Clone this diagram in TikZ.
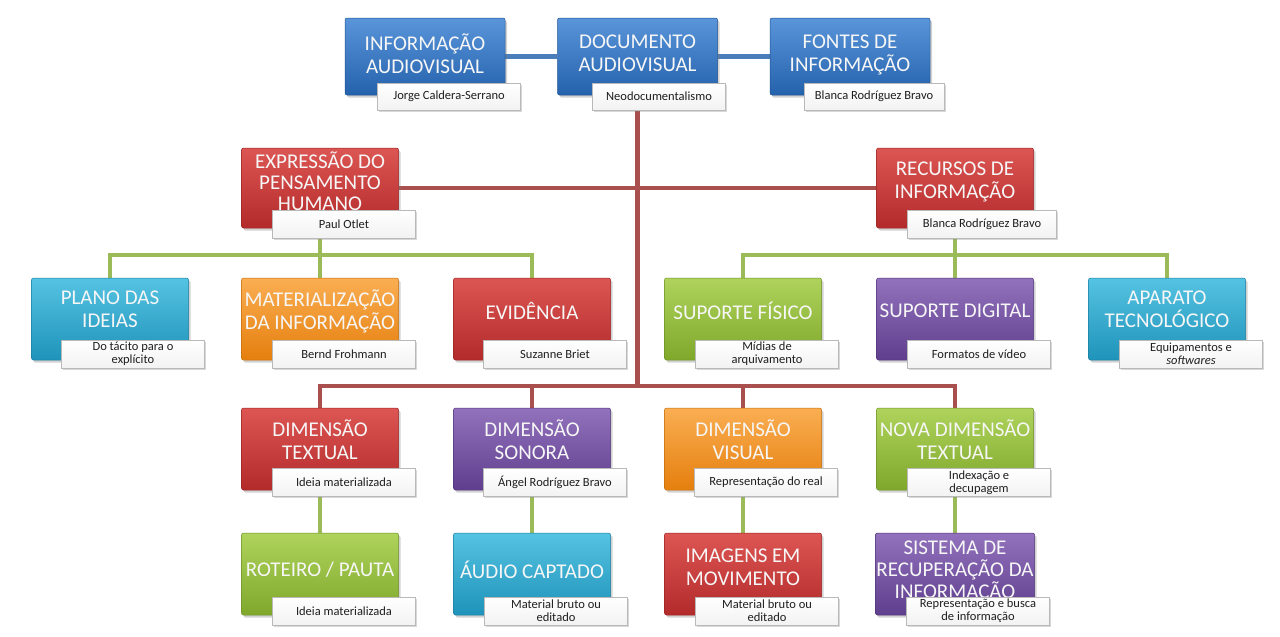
\documentclass[tikz,border=0pt]{standalone}
\usepackage{fontspec}
\setmainfont{Carlito}
\usetikzlibrary{shadows,calc}
\pgfdeclarelayer{bg}
\pgfsetlayers{bg,main}
\definecolor{bluetop}{HTML}{5A95DA}
\definecolor{bluebot}{HTML}{2462AC}
\definecolor{redtop}{HTML}{DC5653}
\definecolor{redbot}{HTML}{B32A2A}
\definecolor{cyantop}{HTML}{55C3E2}
\definecolor{cyanbot}{HTML}{1F93BA}
\definecolor{orangetop}{HTML}{FAAE52}
\definecolor{orangebot}{HTML}{E57F0E}
\definecolor{greentop}{HTML}{AFD35C}
\definecolor{greenbot}{HTML}{7FA82B}
\definecolor{purptop}{HTML}{9272BC}
\definecolor{purpbot}{HTML}{5F3E8E}
\definecolor{connblue}{HTML}{4A7EBB}
\definecolor{connred}{HTML}{A94F4E}
\definecolor{conngreen}{HTML}{9BBB59}
\definecolor{boxtext}{HTML}{F6F6F6}
% invisible strut that lifts a box's text by about half its extra depth
\newcommand{\liftby}[1]{\rule[-#1]{0pt}{1pt}}
\tikzset{
  x=1pt, y=1pt,
  box/.style={rounded corners=2pt, minimum width=157pt, minimum height=82pt,
    align=center, text=boxtext, font=\fontsize{21}{23}\selectfont, inner sep=1pt,
    line width=0.5pt,
    drop shadow={opacity=0.35, shadow xshift=2pt, shadow yshift=-2.5pt}},
  bluebox/.style={box, top color=bluetop, bottom color=bluebot, draw=bluebot!85!black},
  redbox/.style={box, top color=redtop, bottom color=redbot, draw=redbot!85!black},
  cyanbox/.style={box, top color=cyantop, bottom color=cyanbot, draw=cyanbot!85!black},
  orangebox/.style={box, top color=orangetop, bottom color=orangebot, draw=orangebot!85!black},
  greenbox/.style={box, top color=greentop, bottom color=greenbot, draw=greenbot!85!black},
  purpbox/.style={box, top color=purptop, bottom color=purpbot, draw=purpbot!85!black},
  lbl/.style={minimum width=143pt, minimum height=28pt, inner sep=1pt, align=center,
    font=\fontsize{12.5}{13}\selectfont, text=black!88,
    top color=white, bottom color=gray!10, draw=gray!55, line width=0.6pt,
    drop shadow={opacity=0.3, shadow xshift=1.5pt, shadow yshift=-1.5pt}},
  conn/.style={line width=4.5pt},
  bconn/.style={conn, draw=connblue},
  rconn/.style={conn, draw=connred},
  gconn/.style={conn, draw=conngreen}
}
\begin{document}
\begin{tikzpicture}
\useasboundingbox (0,0) rectangle (1280,-637);

% top row
\node[bluebox, minimum width=160pt, minimum height=77pt] (info) at (425,-56.5) {INFORMAÇÃO\\AUDIOVISUAL\liftby{6pt}};
\node[lbl, minimum height=27pt] (linfo) at (449,-96.5) {Jorge Caldera-Serrano};
\node[bluebox, minimum width=160pt, minimum height=77pt] (doc) at (637.5,-56.5) {DOCUMENTO\\AUDIOVISUAL\liftby{6pt}};
\node[lbl, minimum width=133pt, minimum height=27pt] (ldoc) at (659,-96.5) {Neodocumentalismo};
\node[bluebox, minimum width=160pt, minimum height=77pt] (fontes) at (850,-56.5) {FONTES DE\\INFORMAÇÃO\liftby{6pt}};
\node[lbl, minimum width=140pt, minimum height=27pt] (lfontes) at (874,-96.5) {Blanca Rodríguez Bravo};

% level 2
\node[redbox, minimum height=80pt, font=\fontsize{21}{21}\selectfont] (expr) at (320,-188) {EXPRESSÃO DO\\PENSAMENTO\\HUMANO\liftby{14pt}};
\node[lbl] (lexpr) at (344,-224) {Paul Otlet};
\node[redbox, minimum height=80pt] (recur) at (955,-188) {RECURSOS DE\\INFORMAÇÃO\liftby{15pt}};
\node[lbl, minimum width=149pt] (lrecur) at (982,-224) {Blanca Rodríguez Bravo};

% level 3
\node[cyanbox] (plano) at (110,-319) {PLANO DAS\\IDEIAS\liftby{19pt}};
\node[lbl] (lplano) at (133,-354) {Do tácito para o\\explícito};
\node[orangebox] (mat) at (320,-319) {MATERIALIZAÇÃO\\DA INFORMAÇÃO\liftby{19pt}};
\node[lbl] (lmat) at (344,-354) {Bernd Frohmann};
\node[redbox] (evid) at (532,-319) {EVIDÊNCIA\liftby{17pt}};
\node[lbl] (levid) at (555,-354) {Suzanne Briet};
\node[greenbox] (supf) at (743,-319) {SUPORTE FÍSICO\liftby{17pt}};
\node[lbl] (lsupf) at (767,-354) {Mídias de\\arquivamento};
\node[purpbox] (supd) at (955,-319) {SUPORTE DIGITAL\liftby{17pt}};
\node[lbl] (lsupd) at (979,-354) {Formatos de vídeo};
\node[cyanbox] (apar) at (1167,-319) {APARATO\\TECNOLÓGICO\liftby{19pt}};
\node[lbl] (lapar) at (1191,-354) {Equipamentos e\\\textit{softwares}};

% level 4
\node[redbox] (dtex) at (320,-449) {DIMENSÃO\\TEXTUAL\liftby{19pt}};
\node[lbl] (ldtex) at (344,-482.5) {Ideia materializada};
\node[purpbox] (dson) at (532,-449) {DIMENSÃO\\SONORA\liftby{19pt}};
\node[lbl] (ldson) at (555,-482.5) {Ángel Rodríguez Bravo};
\node[orangebox] (dvis) at (743,-449) {DIMENSÃO\\VISUAL\liftby{19pt}};
\node[lbl] (ldvis) at (766,-482.5) {Representação do real};
\node[greenbox] (ndt) at (955,-449) {NOVA DIMENSÃO\\TEXTUAL\liftby{19pt}};
\node[lbl] (lndt) at (979,-482.5) {Indexação e\\decupagem};

% level 5
\node[greenbox] (rot) at (320,-574) {ROTEIRO / PAUTA\liftby{9pt}};
\node[lbl] (lrot) at (344,-611) {Ideia materializada};
\node[cyanbox] (aud) at (532,-574) {ÁUDIO CAPTADO\liftby{9pt}};
\node[lbl] (laud) at (556,-611) {Material bruto ou\\editado};
\node[redbox] (img) at (743,-574) {IMAGENS EM\\MOVIMENTO\liftby{13pt}};
\node[lbl] (limg) at (767,-611) {Material bruto ou\\editado};
\node[purpbox, font=\fontsize{21}{22}\selectfont] (sis) at (955,-574) {SISTEMA DE\\RECUPERAÇÃO DA\\INFORMAÇÃO\liftby{8pt}};
\node[lbl] (lsis) at (978,-611) {Representação e busca\\de informação};

\begin{pgfonlayer}{bg}
\fill[white] (0,0) rectangle (1280,-637);
% blue
\draw[bconn] (info.east) -- (doc.west);
\draw[bconn] (doc.east) -- (fontes.west);
% red trunk
\coordinate (hub4) at (637.5,-386);
\draw[rconn] (doc.south) -- (hub4);
\draw[rconn] (expr.east) -- (recur.west);
\draw[rconn] (dtex.north) -- (dtex.north |- hub4) -- (ndt.north |- hub4) -- (ndt.north);
\draw[rconn] (dson.north) -- (dson.north |- hub4);
\draw[rconn] (dvis.north) -- (dvis.north |- hub4);
% green level 3 left
\coordinate (hubl) at (320,-255);
\draw[gconn] (expr.south) -- (hubl);
\draw[gconn] (plano.north) -- (plano.north |- hubl) -- (evid.north |- hubl) -- (evid.north);
\draw[gconn] (mat.north) -- (mat.north |- hubl);
% green level 3 right
\coordinate (hubr) at (955,-255);
\draw[gconn] (recur.south) -- (hubr);
\draw[gconn] (supf.north) -- (supf.north |- hubr) -- (apar.north |- hubr) -- (apar.north);
\draw[gconn] (supd.north) -- (supd.north |- hubr);
% green level 4 to 5
\draw[gconn] (dtex.south) -- (rot.north);
\draw[gconn] (dson.south) -- (aud.north);
\draw[gconn] (dvis.south) -- (img.north);
\draw[gconn] (ndt.south) -- (sis.north);
\end{pgfonlayer}
\end{tikzpicture}
\end{document}
